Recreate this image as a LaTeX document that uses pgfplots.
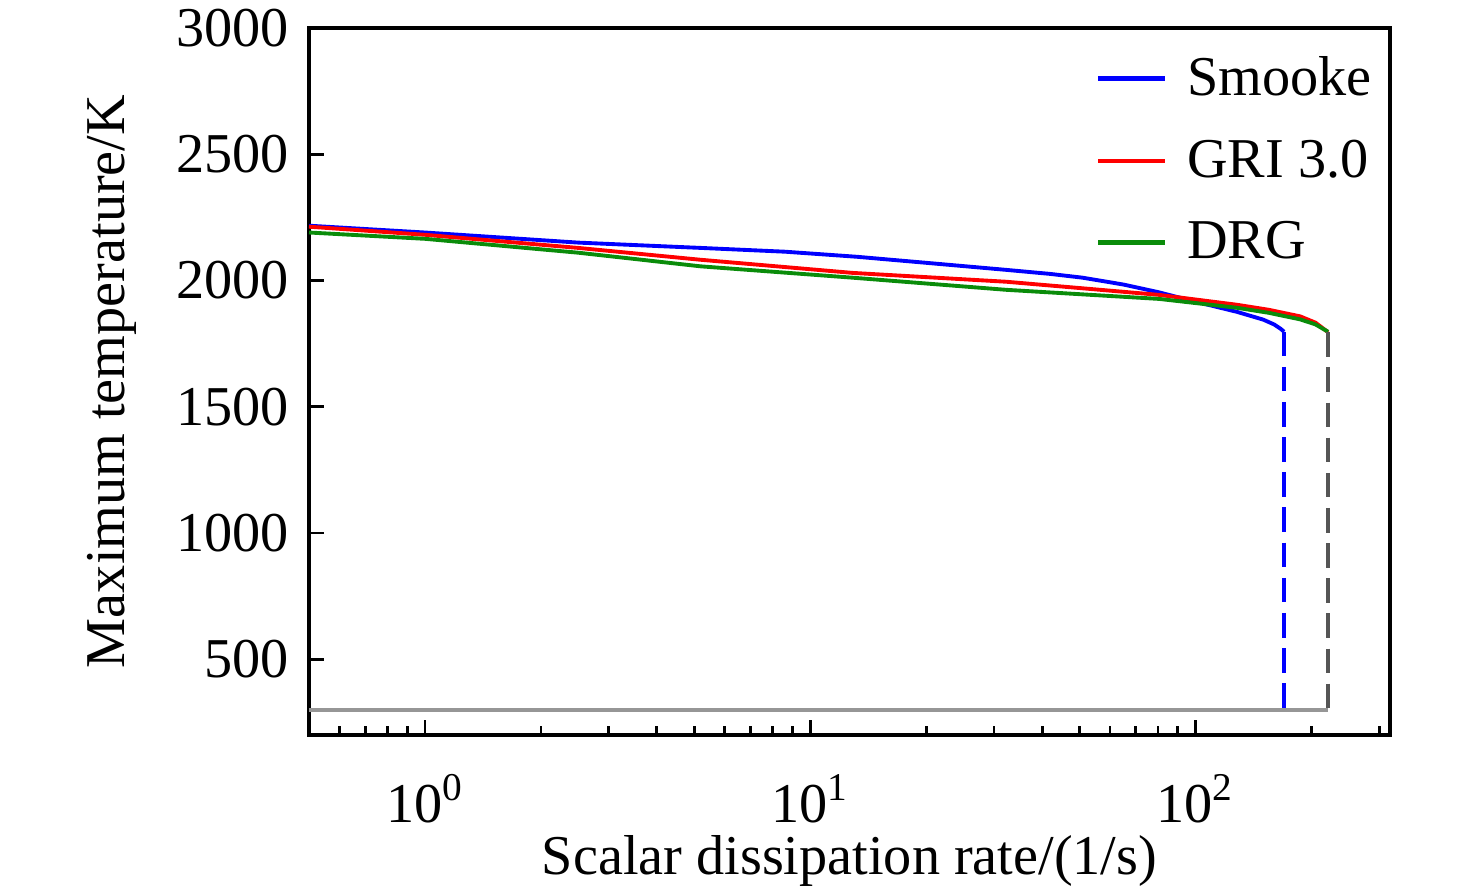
\documentclass[border=0pt]{standalone}
\usepackage{pgfplots}
\pgfplotsset{compat=1.18}
\usepackage{fontspec}
\setmainfont{Liberation Serif}
\definecolor{cblue}{RGB}{0,0,255}
\definecolor{cred}{RGB}{255,0,0}
\definecolor{cgreen}{RGB}{10,140,10}
\definecolor{dgray}{RGB}{85,85,85}
\definecolor{lgray}{RGB}{150,150,150}
\begin{document}
\begin{tikzpicture}
\path[use as bounding box] (-30.9mm,-15.8mm) rectangle (116.7mm,73.5mm);
\begin{axis}[
  at={(0,0)}, anchor=south west,
  scale only axis, width=108.1mm, height=70.7mm,
  xmode=log, xmin=0.5, xmax=320, ymin=200, ymax=3000,
  font=\fontsize{16}{19}\selectfont,
  axis line style={line width=1.1pt},
  tick align=inside, xtick pos=bottom, ytick pos=left,
  major tick length=1.5mm, minor tick length=0.9mm,
  every tick/.style={black, line width=0.8pt},
  xtick={1,10,100},
  xticklabels={10\textsuperscript{0},10\textsuperscript{1},10\textsuperscript{2}},
  minor xtick={0.5,0.6,0.7,0.8,0.9,2,3,4,5,6,7,8,9,20,30,40,50,60,70,80,90,200,300},
  ytick={500,1000,1500,2000,2500,3000},
  /pgf/number format/set thousands separator={},
  /pgf/number format/assume math mode=true,
  xticklabel style={yshift=-2.7mm},
  yticklabel style={xshift=-0.8mm},
  xlabel={Scalar dissipation rate/(1/s)},
  ylabel={Maximum temperature/K},
  xlabel style={at={(axis description cs:0.5,-0.178)}, anchor=center},
  ylabel style={at={(axis description cs:-0.182,0.5)}, anchor=center},
  legend style={at={(axis description cs:0.7275,0.975)}, anchor=north west, draw=none, fill=none,
    row sep=1.9mm, font=\fontsize{16}{19}\selectfont, inner sep=0pt, nodes={inner sep=1mm}},
  legend cell align=left,
  legend image code/.code={\draw[#1, line width=1.3pt] (0mm,0mm) -- (6.7mm,0mm); \path (7.7mm,0mm);},
]
\addplot[cblue, line width=1.1pt] coordinates {
(0.5,2217) (1,2190) (2.5,2150) (5.2,2129) (8.6,2114) (13.2,2094) (20,2070) (32.3,2042)
(42,2026) (51,2011) (65,1984) (80,1954) (100,1916) (128,1876) (150,1845) (160,1826) (166,1810) (170,1797)};
\addlegendentry{Smooke}
\addplot[cred, line width=1.1pt] coordinates {
(0.5,2213) (1,2181) (2.5,2129) (5.2,2082) (12.9,2030) (32.3,1995) (80.5,1943)
(128,1904) (155,1884) (187,1858) (205,1833) (221,1795)};
\addlegendentry{GRI 3.0}
\addplot[cgreen, line width=1.1pt] coordinates {
(0.5,2190) (1,2165) (2.5,2110) (5.2,2056) (12.9,2011) (32.3,1963) (80.5,1927)
(128,1892) (155,1872) (187,1846) (205,1826) (221,1797)};
\addlegendentry{DRG}
\addplot[lgray, line width=1.2pt, forget plot] coordinates {(0.5,300) (221,300)};
\addplot[cblue, line width=1.1pt, dash pattern=on 7pt off 3pt, forget plot] coordinates {(170,1797) (170,300)};
\addplot[dgray, line width=1.1pt, dash pattern=on 7pt off 3pt, forget plot] coordinates {(221,1795) (221,300)};
\end{axis}
\end{tikzpicture}
\end{document}
